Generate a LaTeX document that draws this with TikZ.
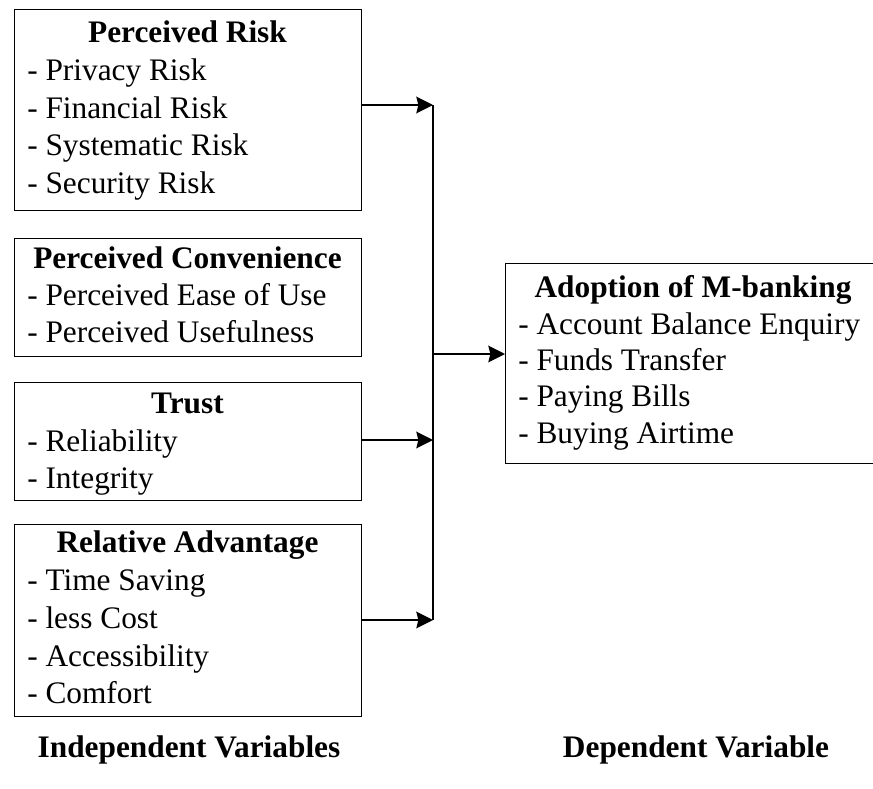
\documentclass[tikz,border=0pt]{standalone}
\usepackage{fontspec}
\setmainfont{Liberation Serif}
\usetikzlibrary{arrows.meta}
\begin{document}
\begin{tikzpicture}[x=0.75pt,y=-0.75pt,
  varbox/.style={draw, line width=1.1pt, inner sep=0pt, anchor=north west},
  item/.style={font=\fontsize{23.5}{28}\selectfont, inner sep=0pt, anchor=base west},
  head/.style={font=\fontsize{23.5}{28}\selectfont\bfseries, inner sep=0pt, anchor=base},
  link/.style={line width=1.4pt},
  arr/.style={link, -{Stealth[length=12.5pt, width=12.5pt, inset=1.5pt]}}]
\useasboundingbox (0,0) rectangle (873,788);

% boxes
\node[varbox, minimum width=260.25pt, minimum height=150.75pt] (pr) at (14,9) {};
\node[varbox, minimum width=260.25pt, minimum height=88.5pt] (pc) at (14,238) {};
\node[varbox, minimum width=260.25pt, minimum height=88.5pt] (tr) at (14,382) {};
\node[varbox, minimum width=260.25pt, minimum height=144pt] (ra) at (14,524) {};
\node[varbox, minimum width=276.75pt, minimum height=150pt] (ad) at (505,263) {};

% Perceived Risk
\node[head] (prh) at (187.5,43) {Perceived Risk};
\node[item] (pr1) at (27,80.5) {- Privacy Risk};
\node[item] (pr2) at (27,118) {- Financial Risk};
\node[item] (pr3) at (27,155.5) {- Systematic Risk};
\node[item] (pr4) at (27,193) {- Security Risk};

% Perceived Convenience
\node[head] (pch) at (187.5,268) {Perceived Convenience};
\node[item] (pc1) at (27,305) {- Perceived Ease of Use};
\node[item] (pc2) at (27,342) {- Perceived Usefulness};

% Trust
\node[head] (trh) at (187.5,413) {Trust};
\node[item] (tr1) at (27,451) {- Reliability};
\node[item] (tr2) at (27,488) {- Integrity};

% Relative Advantage
\node[head] (rah) at (187.5,552) {Relative Advantage};
\node[item] (ra1) at (27,590) {- Time Saving};
\node[item] (ra2) at (27,628) {- less Cost};
\node[item] (ra3) at (27,666) {- Accessibility};
\node[item] (ra4) at (27,703) {- Comfort};

% Adoption of M-banking
\node[head] (adh) at (693,297) {Adoption of M-banking};
\node[item] (ad1) at (518,334) {- Account Balance Enquiry};
\node[item] (ad2) at (518,370) {- Funds Transfer};
\node[item] (ad3) at (518,406.5) {- Paying Bills};
\node[item] (ad4) at (518,443) {- Buying Airtime};

% bottom labels
\node[head] (iv) at (189,757) {Independent Variables};
\node[head] (dv) at (696,757) {Dependent Variable};

% connectors
\coordinate (j1) at (433,105);
\coordinate (j3) at (433,440);
\coordinate (j4) at (433,620);
\coordinate (jm) at (433,354);
\draw[link] (j1) -- (j4);
\draw[arr] (pr.east |- j1) -- (j1);
\draw[arr] (tr.east |- j3) -- (j3);
\draw[arr] (ra.east |- j4) -- (j4);
\draw[arr] (jm) -- (ad.west |- jm);
\end{tikzpicture}
\end{document}
